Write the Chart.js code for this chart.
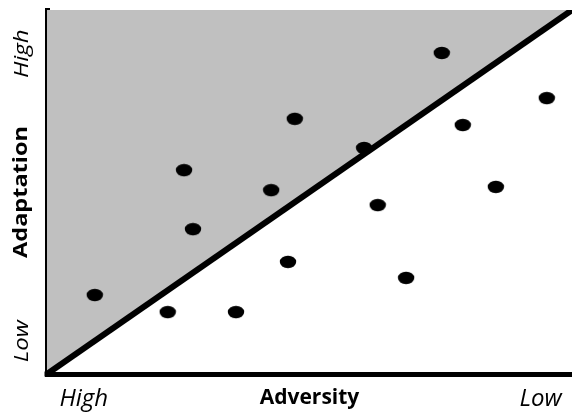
<!DOCTYPE html>
<html>
<head>
<meta charset="utf-8">
<script src="https://cdn.jsdelivr.net/npm/chart.js@4.4.1/dist/chart.umd.min.js"></script>
<style>
  html, body { margin: 0; padding: 0; overflow: hidden; background: #fff; }
  .wrap { width: 572px; height: 414px; position: relative; }
  canvas { display: block; }
</style>
</head>
<body>
<div class="wrap"><canvas class="chart-1"></canvas></div>
<script>
// dots (0-100 on both axes)
var adversityX = [9.1, 23.0, 36.0, 26.1, 27.8, 42.7, 47.2, 60.4, 75.2, 79.2, 95.2, 85.5, 63.0, 45.9, 68.4];
var adaptationY = [21.7, 17.0, 17.0, 56.0, 39.8, 50.5, 70.1, 62.1, 88.2, 68.4, 75.8, 51.4, 46.4, 30.8, 26.4];

// diagonal boundary
var lineX = [0, 100];
var lineY = [0, 100];

// axis end labels
var xTicks = [7, 94];
var xTickLabels = ['High', 'Low'];
var yTicks = [9, 88];
var yTickLabels = ['Low', 'High'];

var xTitle = 'Adversity';
var yTitle = 'Adaptation';

// oval marker
var dot = document.createElement('canvas');
dot.width = 18;
dot.height = 14;
var dctx = dot.getContext('2d');
dctx.fillStyle = '#000';
dctx.beginPath();
dctx.ellipse(9, 7, 8.2, 6.2, 0, 0, Math.PI * 2);
dctx.fill();

// vertical text in the original is stretched along and squeezed across
function vText(c, txt, x, y) {
    c.save();
    c.translate(x, y);
    c.rotate(-Math.PI / 2);
    c.scale(1, 0.85);
    c.fillText(txt, 0, 0);
    c.restore();
}

var axisText = {
    id: 'axisText',
    afterDraw: function (chart) {
        var c = chart.ctx;
        var xs = chart.scales.x, ys = chart.scales.y;
        var area = chart.chartArea;
        c.save();
        c.fillStyle = '#000';
        // square off the corner where the two axis lines meet
        c.fillRect(area.left - 2.5, area.bottom - 2.5, 5, 5);
        c.textAlign = 'center';
        c.textBaseline = 'middle';
        c.font = 'italic 24px "Open Sans"';
        xTicks.forEach(function (v, i) {
            c.fillText(xTickLabels[i], xs.getPixelForValue(v), 399);
        });
        yTicks.forEach(function (v, i) {
            vText(c, yTickLabels[i], 22, ys.getPixelForValue(v));
        });
        c.font = 'bold 23.5px "Open Sans"';
        vText(c, yTitle, 21, (area.top + area.bottom) / 2);
        c.restore();
    }
};

var ctx1 = document.querySelector('.chart-1');
const chart1 = new Chart(ctx1, {
    type: 'scatter',
    data: {
        datasets: [
            {
                label: 'points',
                data: adversityX.map(function (x, i) { return { x: x, y: adaptationY[i] }; }),
                pointStyle: dot,
                pointRadius: 8,
                pointHoverRadius: 8
            },
            {
                type: 'line',
                label: 'boundary',
                data: lineX.map(function (x, i) { return { x: x, y: lineY[i] }; }),
                borderColor: '#000',
                borderWidth: 6,
                pointRadius: 0,
                fill: 'end',
                backgroundColor: '#c0c0c0'
            }
        ]
    },
    options: {
        responsive: true,
        maintainAspectRatio: false,
        animation: false,
        layout: { autoPadding: false, padding: { top: 10, right: 0, left: 0, bottom: 0 } },
        plugins: {
            legend: { display: false },
            tooltip: { enabled: false }
        },
        scales: {
            x: {
                type: 'linear',
                min: 0,
                max: 100,
                z: 1,
                grid: { display: false },
                ticks: { display: false },
                border: { color: '#000', width: 5 },
                title: {
                    display: true,
                    text: xTitle,
                    color: '#000',
                    font: { family: 'Open Sans', size: 21, weight: 'bold' },
                    padding: { top: 0, bottom: 3 }
                },
                afterFit: function (scale) { scale.height = 40; }
            },
            y: {
                min: 0,
                max: 100,
                z: 1,
                grid: { display: false },
                ticks: { display: false },
                border: { color: '#000', width: 5 },
                title: { display: false },
                afterFit: function (scale) { scale.width = 47; }
            }
        }
    },
    plugins: [axisText]
});
</script>
</body>
</html>
